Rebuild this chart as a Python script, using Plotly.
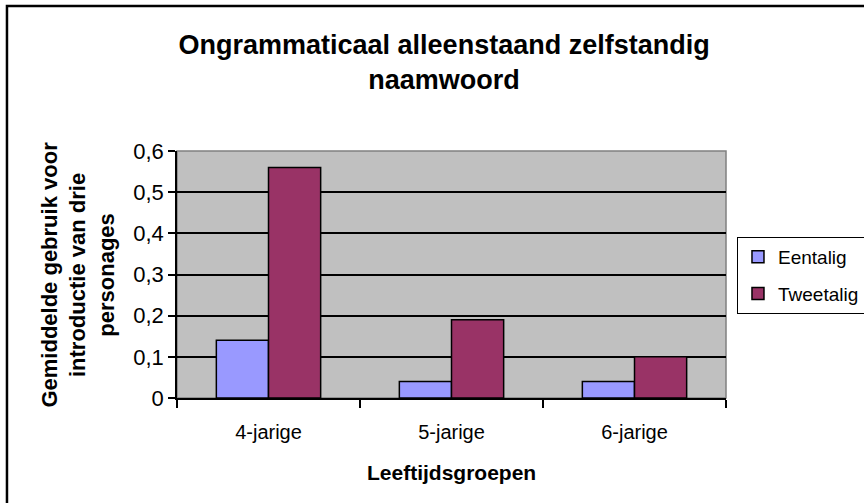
import plotly.graph_objects as go

categories = ["4-jarige", "5-jarige", "6-jarige"]
eentalig = [0.14, 0.04, 0.04]
tweetalig = [0.56, 0.19, 0.10]
series_names = ["Eentalig", "Tweetalig"]
y_ticks = [0, 0.1, 0.2, 0.3, 0.4, 0.5, 0.6]
y_ticktext = ["0", "0,1", "0,2", "0,3", "0,4", "0,5", "0,6"]

FONT = "Liberation Sans, Arial, sans-serif"

fig = go.Figure()
fig.add_trace(go.Bar(x=categories, y=eentalig, name=series_names[0], legendgroup="a",
                     marker=dict(color="#9999FF", line=dict(color="black", width=1.5))))
fig.add_trace(go.Bar(x=categories, y=tweetalig, name=series_names[1], legendgroup="b",
                     marker=dict(color="#993366", line=dict(color="black", width=1.5))))

fig.update_layout(
    width=864, height=503,
    margin=dict(l=177, r=138, t=151, b=105, autoexpand=False),
    paper_bgcolor="white", plot_bgcolor="#C0C0C0",
    barmode="group", bargap=0.43, bargroupgap=0,
    separators=",.",
    font=dict(family=FONT, color="black", size=20),
    title=dict(text="<b>Ongrammaticaal alleenstaand zelfstandig<br>naamwoord</b>",
               x=0.514, xanchor="center", y=0.893, yanchor="middle",
               font=dict(size=27, family=FONT, color="black")),
    showlegend=True,
    legend=dict(x=1.02, y=0.652, xanchor="left", yanchor="top",
                bordercolor="black", borderwidth=1, bgcolor="white",
                font=dict(size=19, family=FONT), traceorder="grouped",
                tracegroupgap=9, itemwidth=30),
    xaxis=dict(showline=True, linecolor="black", linewidth=1.5,
               ticks="outside", ticklen=8, tickcolor="black", tickwidth=1.5,
               tickson="boundaries", showgrid=False,
               tickfont=dict(size=20), ticklabelstandoff=15),
    yaxis=dict(range=[0, 0.6], tickvals=y_ticks, ticktext=y_ticktext,
               showline=True, linecolor="black", linewidth=1.5,
               ticks="outside", ticklen=7, tickcolor="black", tickwidth=1.5,
               showgrid=True, gridcolor="black", gridwidth=1.5,
               zeroline=False, tickfont=dict(size=22)),
    annotations=[
        dict(text="<b>Gemiddelde gebruik voor<br>introductie van drie<br>personages</b>",
             xref="paper", yref="paper", x=-0.182, y=0.5, textangle=-90,
             showarrow=False, xanchor="center", yanchor="middle",
             font=dict(size=22, family=FONT)),
        dict(text="<b>Leeftijdsgroepen</b>", xref="paper", yref="paper",
             x=0.5, y=-0.30, showarrow=False, xanchor="center", yanchor="middle",
             font=dict(size=21, family=FONT)),
    ],
    shapes=[
        dict(type="rect", xref="paper", yref="paper", x0=0, x1=1, y0=0, y1=1,
             line=dict(color="#808080", width=1.5), layer="below"),
        dict(type="rect", xref="paper", yref="paper", x0=-0.3097, x1=1.30,
             y0=-0.50, y1=1.587, line=dict(color="black", width=2.5)),
    ],
)

fig.write_html("out.html", config={"displayModeBar": False},
               post_script="document.body.style.margin='0';document.body.style.overflow='hidden';")
